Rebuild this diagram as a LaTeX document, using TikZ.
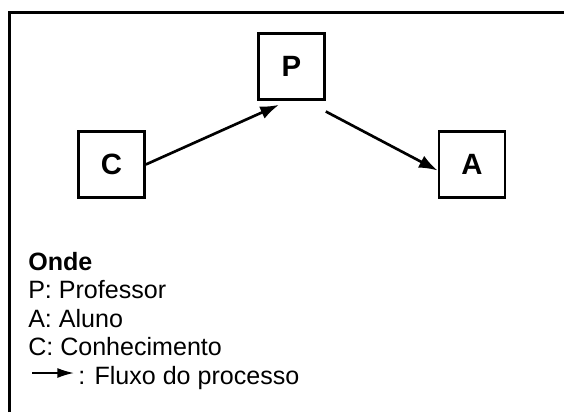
\documentclass[tikz,border=0pt]{standalone}
\usepackage{fontspec}
\setmainfont{Liberation Sans}
\usetikzlibrary{arrows.meta}

\tikzset{
  caixa/.style={draw, line width=2pt, minimum size=49.5pt, inner sep=0pt,
    font=\fontsize{22}{24}\selectfont\bfseries},
  fluxo/.style={line width=2pt, -{Latex[length=14pt,width=10pt]}},
  legenda/.style={anchor=base west, inner sep=0pt, font=\fontsize{18.8}{20}\selectfont}
}

\begin{document}
\begin{tikzpicture}[x=0.75pt,y=-0.75pt]
  \useasboundingbox (0,0) rectangle (564,412);
  % Moldura (so as bordas de cima e da esquerda)
  \draw[line width=1.6pt] (9.5,412) -- (9.5,12.5) -- (564,12.5);

  % Caixas
  \node[caixa] (P) at (291.5,66.5) {P};
  \node[caixa] (C) at (111.5,164.5) {C};
  \node[caixa] (A) at (472,164.5) {A};

  % Setas do processo
  \draw[fluxo] (C.east) -- ([xshift=-9.4pt,yshift=-3pt]P.south);
  \draw[fluxo] ([yshift=-8pt]P.south east) -- ([yshift=-4.5pt]A.west);

  % Legenda
  \node[legenda, font=\fontsize{18.8}{20}\selectfont\bfseries] (onde) at (28,270) {Onde};
  \node[legenda] (profe) at (28,298.5) {P: Professor};
  \node[legenda] (aluno) at (28,327) {A: Aluno};
  \node[legenda] (conhe) at (28,355.5) {C: Conhecimento};
  \coordinate (setaini) at (32,373);
  \coordinate (setafim) at (74,373);
  \draw[line width=1.3pt, -{Latex[length=12.5pt,width=7.5pt]}] (setaini) -- (setafim);
  \node[legenda] (fluxo) at (78,384) {: Fluxo do processo};
\end{tikzpicture}
\end{document}
